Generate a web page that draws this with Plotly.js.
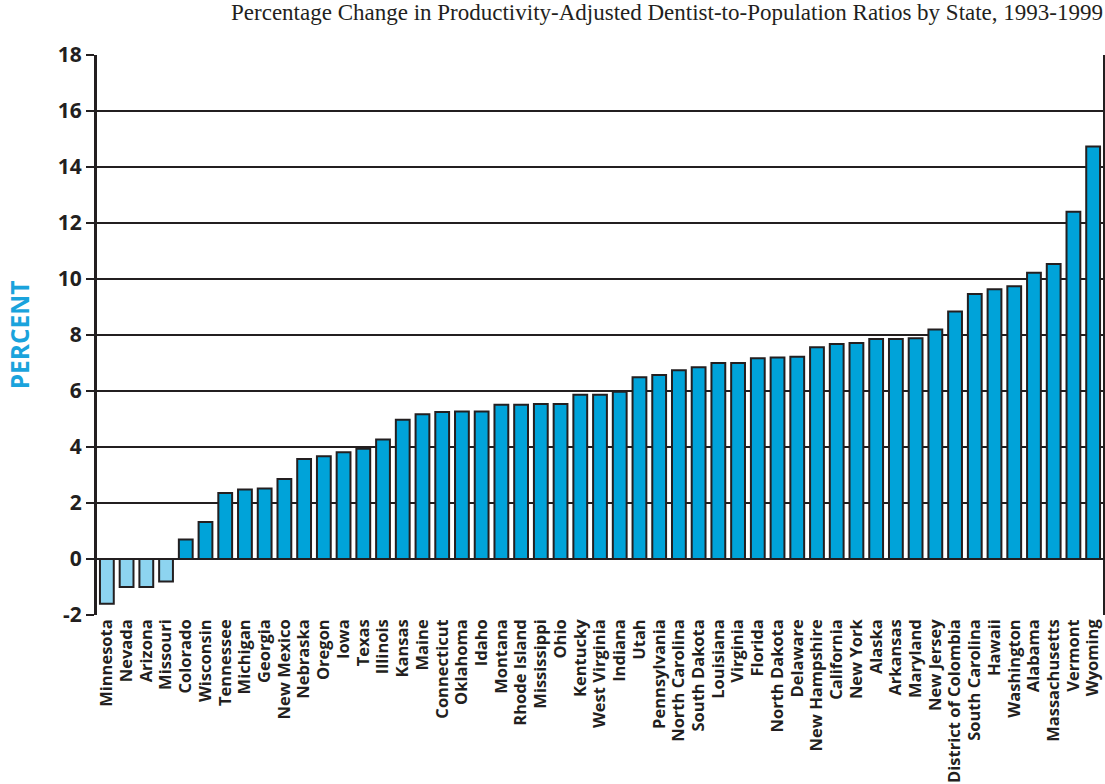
<!DOCTYPE html>
<html>
<head>
<meta charset="utf-8">
<script src="https://cdn.plot.ly/plotly-3.0.1.min.js"></script>
<style>html,body{margin:0;padding:0;background:#fff;}#chart{width:1105px;height:784px;}</style>
</head>
<body>
<div id="chart"></div>
<script>
const states = ["Minnesota","Nevada","Arizona","Missouri","Colorado","Wisconsin","Tennessee","Michigan","Georgia","New Mexico","Nebraska","Oregon","Iowa","Texas","Illinois","Kansas","Maine","Connecticut","Oklahoma","Idaho","Montana","Rhode Island","Mississippi","Ohio","Kentucky","West Virginia","Indiana","Utah","Pennsylvania","North Carolina","South Dakota","Louisiana","Virginia","Florida","North Dakota","Delaware","New Hampshire","California","New York","Alaska","Arkansas","Maryland","New Jersey","District of Colombia","South Carolina","Hawaii","Washington","Alabama","Massachusetts","Vermont","Wyoming"];
const pctChange = [-1.6,-1.0,-1.0,-0.8,0.7,1.32,2.36,2.48,2.52,2.86,3.57,3.67,3.81,3.94,4.27,4.97,5.17,5.25,5.27,5.27,5.51,5.51,5.54,5.54,5.87,5.87,5.97,6.49,6.57,6.74,6.85,7.0,7.0,7.17,7.2,7.22,7.56,7.68,7.71,7.86,7.86,7.88,8.2,8.84,9.46,9.63,9.74,10.22,10.54,12.4,14.73];
const yTicks = [-2,0,2,4,6,8,10,12,14,16,18];
const titleText = "Percentage Change in Productivity-Adjusted Dentist-to-Population Ratios by State, 1993-1999";

const colors = pctChange.map(v => v < 0 ? "#8dd4f0" : "#00a3d9");

const trace = {
  type: "bar",
  x: states,
  y: pctChange,
  marker: {color: colors, line: {color: "#231f20", width: 2}},
  hoverinfo: "x+y"
};

const layout = {
  width: 1105, height: 784,
  margin: {l: 97, r: 2, t: 55, b: 169},
  paper_bgcolor: "#fff", plot_bgcolor: "#fff",
  showlegend: false,
  bargap: 0.3,
  title: {
    text: titleText,
    font: {family: "Liberation Serif, serif", size: 23, color: "#231f20"},
    x: 1, xref: "paper", xanchor: "right", y: 0.985, yref: "container", yanchor: "middle"
  },
  xaxis: {
    type: "category",
    tickmode: "array",
    tickvals: states,
    ticktext: states,
    tickangle: -90,
    tickfont: {family: "Open Sans, sans-serif", size: 16.5, color: "#231f20", weight: "bold"},
    showgrid: false, zeroline: false, showline: false, ticks: "",
    automargin: false
  },
  yaxis: {
    range: [-2, 18],
    tickvals: yTicks,
    ticktext: yTicks.map(String),
    tickfont: {family: "Open Sans, sans-serif", size: 21, color: "#231f20", weight: "bold"},
    ticks: "outside", ticklen: 8, tickwidth: 2, tickcolor: "#231f20",
    showgrid: true, gridcolor: "#231f20", gridwidth: 2,
    zeroline: true, zerolinecolor: "#231f20", zerolinewidth: 2,
    showline: true, linecolor: "#231f20", linewidth: 3, mirror: true,
    title: {text: "PERCENT", font: {family: "Open Sans, sans-serif", size: 24.5, color: "#1aa3dc", weight: "bold"}, standoff: 22},
    automargin: false
  }
};

Plotly.newPlot("chart", [trace], layout, {displayModeBar: false, staticPlot: true});
</script>
</body>
</html>
